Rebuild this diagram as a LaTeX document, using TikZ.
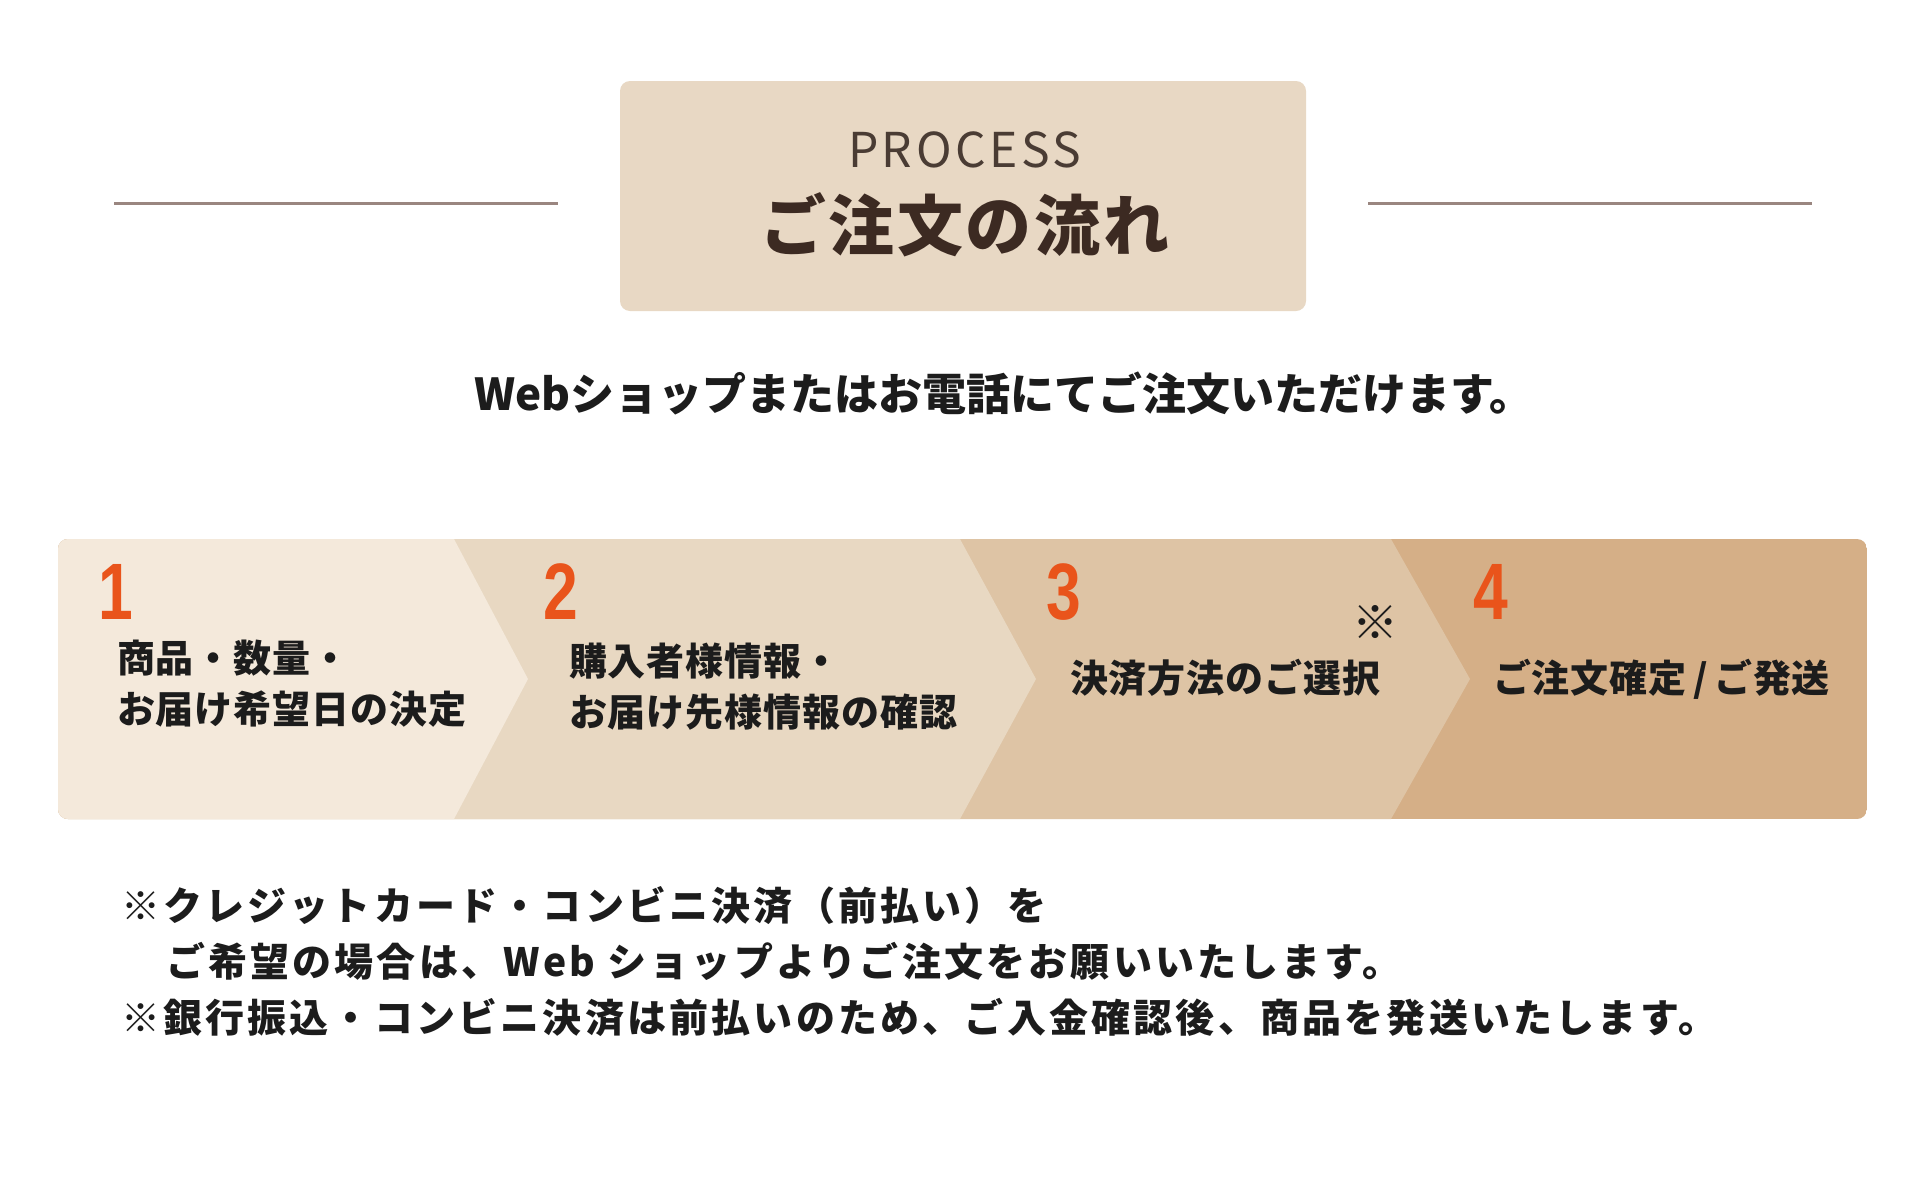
\documentclass[tikz,border=0pt]{standalone}
\usepackage{fontspec}
\usepackage{graphicx}
\newfontfamily\jp{Noto Sans CJK JP}
\newfontfamily\jpproc{Noto Sans CJK JP}[LetterSpace=7.5]
\newfontfamily\jptitle{Noto Sans CJK JP}[LetterSpace=4]
\newfontfamily\jpstep{Noto Sans CJK JP}[LetterSpace=2.5]
\newfontfamily\jpnote{Noto Sans CJK JP}[LetterSpace=8.2]
\newfontfamily\digitfont{Liberation Sans}
\definecolor{bgtitle}{HTML}{E8D8C4}
\definecolor{segA}{HTML}{F4E9DB}
\definecolor{segB}{HTML}{E8D8C2}
\definecolor{segC}{HTML}{DEC4A5}
\definecolor{segD}{HTML}{D5AF87}
\definecolor{rulec}{HTML}{9A8680}
\definecolor{orangeA}{HTML}{E9541B}
\definecolor{titletxt}{HTML}{3C2A22}
\definecolor{proctxt}{HTML}{4A3C34}
\definecolor{bodytxt}{HTML}{1C1C1C}
\newcommand\myprocfont{\jpproc\fontsize{48}{56}\selectfont}
\newcommand\mytitlefont{\jptitle\bfseries\fontsize{66}{76}\selectfont}
\newcommand\mysubfont{\jp\bfseries\fontsize{44}{52}\selectfont}
\newcommand\mystepfont{\jpstep\bfseries\fontsize{38}{46}\selectfont}
\newcommand\mynotefont{\jpnote\bfseries\fontsize{39}{46}\selectfont}
\newcommand\mydigit[1]{\scalebox{0.78}[1]{\digitfont\bfseries\fontsize{80}{80}\selectfont #1}}
\begin{document}
\begin{tikzpicture}[x=1pt,y=-1pt,
  rulestyle/.style={draw=rulec, line width=3pt},
  txtbase/.style={anchor=base west, inner sep=0pt, outer sep=0pt},
  steptext/.style={txtbase, font=\mystepfont, text=bodytxt},
  digitnum/.style={txtbase, text=orangeA},
  notetext/.style={txtbase, font=\mynotefont, text=bodytxt}]
\useasboundingbox[fill=white] (0,0) rectangle (1920,1186);

% header rules and title box
\coordinate (la) at (114,203);
\coordinate (lb) at (558,203);
\coordinate (ra) at (1368,203);
\coordinate (rb) at (1812,203);
\draw[rulestyle] (la) -- (lb);
\draw[rulestyle] (ra) -- (rb);
\fill[bgtitle, rounded corners=10pt] (620,81) rectangle (1306,311);
\node[txtbase, font=\myprocfont, text=proctxt] (proc) at (848,167) {PROCESS};
\node[txtbase, font=\mytitlefont, text=titletxt] (title) at (760,250) {ご注文の流れ};

% subtitle
\node[txtbase, font=\mysubfont, text=bodytxt] (sub) at (474,410) {Webショップまたはお電話にてご注文いただけます。};

% step band
\begin{scope}
\clip[rounded corners=10pt] (58,539) rectangle (1867,819);
\fill[segD] (58,539) rectangle (1867,819);
\fill[segC] (0,539) -- (1391,539) -- (1470,679) -- (1391,819) -- (0,819) -- cycle;
\fill[segB] (0,539) -- (960,539) -- (1036,679) -- (960,819) -- (0,819) -- cycle;
\fill[segA] (0,539) -- (454,539) -- (528,679) -- (454,819) -- (0,819) -- cycle;
\end{scope}

% digits
\node[digitnum] (d1) at (98,619) {\mydigit{1}};
\node[digitnum] (d2) at (543,619) {\mydigit{2}};
\node[digitnum] (d3) at (1046,619) {\mydigit{3}};
\node[digitnum] (d4) at (1473,619) {\mydigit{4}};

% step texts
\node[steptext] (s1a) at (117,672) {商品・数量・};
\node[steptext] (s1b) at (117,723) {お届け希望日の決定};
\node[steptext] (s2a) at (569,675) {購入者様情報・};
\node[steptext] (s2b) at (569,726) {お届け先様情報の確認};
\node[steptext] (s3) at (1070,692) {決済方法のご選択};
\node[inner sep=0pt, font=\jp\fontsize{46}{46}\selectfont, text=bodytxt] (s3m) at (1375,622) {※};
\node[steptext] (s4) at (1493,692) {ご注文確定\,/\,ご発送};

% notes
\node[notetext] (n1) at (121,920) {※クレジットカード・コンビニ決済（前払い）を};
\node[notetext] (n2) at (166,976) {ご希望の場合は、Web ショップよりご注文をお願いいたします。};
\node[notetext] (n3) at (121,1032) {※銀行振込・コンビニ決済は前払いのため、ご入金確認後、商品を発送いたします。};
\end{tikzpicture}
\end{document}
